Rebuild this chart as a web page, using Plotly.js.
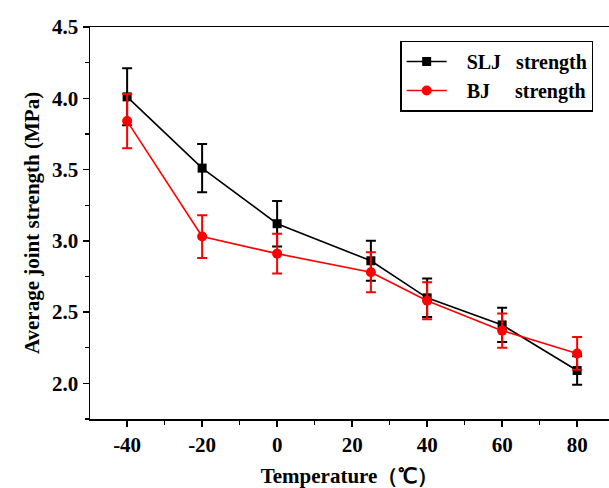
<!DOCTYPE html>
<html>
<head>
<meta charset="utf-8">
<script src="https://cdn.plot.ly/plotly-3.0.1.min.js"></script>
<style>html,body{margin:0;padding:0;background:#fff;}#chart{width:609px;height:488px;}</style>
</head>
<body>
<div id="chart"></div>
<script>
const temperatures = [-40, -20, 0, 25, 40, 60, 80];
const sljStrength = [4.01, 3.51, 3.12, 2.86, 2.60, 2.41, 2.09];
const sljError = [0.20, 0.17, 0.16, 0.14, 0.135, 0.12, 0.10];
const bjStrength = [3.84, 3.03, 2.91, 2.78, 2.58, 2.37, 2.21];
const bjError = [0.19, 0.15, 0.14, 0.14, 0.13, 0.12, 0.115];
const xTicks = [-40, -20, 0, 20, 40, 60, 80];
const yTicks = [2.0, 2.5, 3.0, 3.5, 4.0, 4.5];

const nb = '\u00a0';
const font = {family: 'Liberation Serif, Times New Roman, serif', color: '#000'};

const traces = [
  {
    x: temperatures, y: sljStrength, type: 'scatter', mode: 'lines+markers',
    name: '<b>' + nb + nb + nb + 'SLJ' + nb + nb + nb + 'strength</b>',
    line: {color: '#000', width: 1.6},
    marker: {symbol: 'square', size: 9, color: '#000'},
    error_y: {type: 'data', array: sljError, visible: true, color: '#000', thickness: 2, width: 5}
  },
  {
    x: temperatures, y: bjStrength, type: 'scatter', mode: 'lines+markers',
    name: '<b>' + nb + nb + nb + 'BJ' + nb + nb + nb + nb + nb + 'strength</b>',
    line: {color: '#ff0000', width: 1.6},
    marker: {symbol: 'circle', size: 10, color: '#ff0000'},
    error_y: {type: 'data', array: bjError, visible: true, color: '#ff0000', thickness: 2, width: 5}
  }
];

const layout = {
  width: 609, height: 488,
  margin: {l: 90, r: 0, t: 27, b: 69},
  paper_bgcolor: '#fff', plot_bgcolor: '#fff',
  font: Object.assign({size: 20}, font),
  showlegend: true,
  legend: {
    x: 0.598, y: 0.965, xanchor: 'left', yanchor: 'top',
    bgcolor: '#fff', bordercolor: '#000', borderwidth: 1.3,
    font: Object.assign({size: 20}, font),
    tracegroupgap: 0, itemwidth: 40
  },
  xaxis: {
    range: [-49.9, 88.5],
    tickvals: xTicks, ticktext: xTicks.map(v => '<b>' + v + '</b>'),
    ticks: 'outside', ticklen: 6, tickwidth: 1.5, tickcolor: '#000',
    minor: {dtick: 10, tick0: 0, ticks: 'outside', ticklen: 4, tickwidth: 1.3, tickcolor: '#000'},
    showline: true, linecolor: '#000', linewidth: 1.5, mirror: true,
    showgrid: false, zeroline: false,
    tickfont: Object.assign({size: 21}, font),
    title: {text: '<b>Temperature（℃）</b>', font: Object.assign({size: 21}, font), standoff: 14}
  },
  yaxis: {
    range: [1.75, 4.5],
    tickvals: yTicks, ticktext: yTicks.map(v => '<b>' + v.toFixed(1) + '</b>'),
    ticks: 'outside', ticklen: 6, tickwidth: 1.5, tickcolor: '#000',
    minor: {dtick: 0.25, tick0: 0, ticks: 'outside', ticklen: 4, tickwidth: 1.3, tickcolor: '#000'},
    showline: true, linecolor: '#000', linewidth: 1.5, mirror: true,
    showgrid: false, zeroline: false,
    tickfont: Object.assign({size: 21}, font),
    title: {text: '<b>Average joint strength (MPa)</b>', font: Object.assign({size: 21}, font), standoff: 6}
  }
};

Plotly.newPlot('chart', traces, layout, {displayModeBar: false, staticPlot: true});
</script>
</body>
</html>
